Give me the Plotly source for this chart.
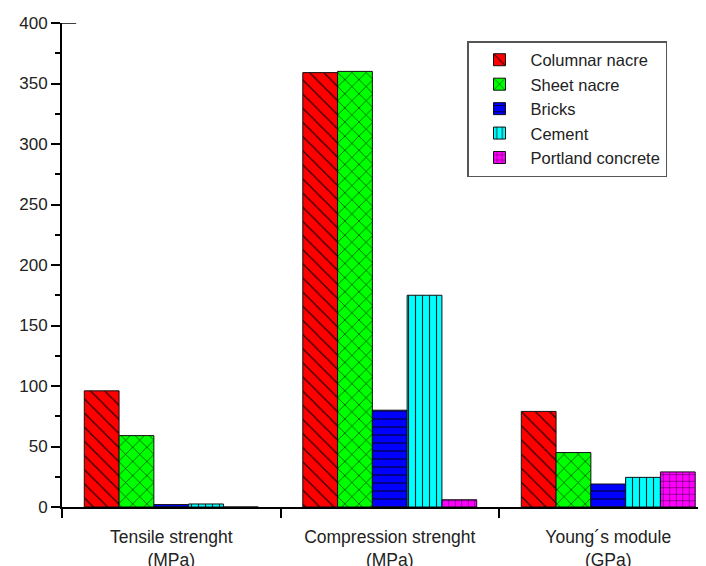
import plotly.graph_objects as go

categories = ["Tensile strenght<br>(MPa)", "Compression strenght<br>(MPa)", "Young´s module<br>(GPa)"]
cat_pos = [0, 1, 2]
columnar_nacre = [96, 359, 79]
sheet_nacre = [59, 360, 45]
bricks = [2, 80, 19]
cement = [2.5, 175, 24.5]
portland_concrete = [0, 6, 29]
y_ticks = [0, 50, 100, 150, 200, 250, 300, 350, 400]

series = [
    ("Columnar nacre", columnar_nacre, "#ff0000", "\\", 10, 0.12),
    ("Sheet nacre", sheet_nacre, "#00ff00", "x", 10, 0.12),
    ("Bricks", bricks, "#0000ff", "-", 8, 0.14),
    ("Cement", cement, "#00ffff", "|", 7, 0.16),
    ("Portland concrete", portland_concrete, "#ff00ff", "+", 6.5, 0.14),
]

FONT = "Liberation Sans, Arial, sans-serif"

fig = go.Figure()
for name, vals, col, shp, sz, sol in series:
    fig.add_trace(go.Bar(
        name=name, x=cat_pos, y=vals,
        marker=dict(
            color=col,
            line=dict(color="#111111", width=1),
            pattern=dict(shape=shp, fgcolor="#000000", bgcolor=col, size=sz,
                         solidity=sol, fillmode="overlay", fgopacity=0.85),
        ),
    ))

# page body adds an 8px offset; margins compensate so the plot area spans x 62..706, y 23..507
fig.update_layout(
    width=698, height=558,
    margin=dict(l=54, r=0, t=15, b=59, autoexpand=False),
    paper_bgcolor="white", plot_bgcolor="white",
    barmode="group", bargap=0.204, bargroupgap=0,
    font=dict(family=FONT, size=17, color="#222222"),
    showlegend=True,
    legend=dict(
        x=(467 - 62) / 644, y=1 - 18 / 484, xanchor="left", yanchor="top",
        bordercolor="#555555", borderwidth=1.5, bgcolor="white",
        font=dict(family=FONT, size=16.5, color="#222222"),
        itemwidth=52, tracegroupgap=0,
    ),
    xaxis=dict(
        automargin=False,
        range=[-0.5, -0.5 + 644 / 218.5],
        tickmode="array", tickvals=cat_pos, ticktext=categories,
        ticks="", showline=True, linecolor="#000000", linewidth=2,
        showgrid=False, zeroline=False,
        tickfont=dict(family=FONT, size=17.5, color="#222222"),
        ticklabelstandoff=13,
        minor=dict(tickmode="linear", tick0=-0.5, dtick=1, ticks="outside",
                   ticklen=9, tickwidth=2, tickcolor="#000000", showgrid=False),
    ),
    yaxis=dict(
        automargin=False,
        range=[0, 400], tickmode="array", tickvals=y_ticks,
        ticks="outside", ticklen=9, tickwidth=1.5, tickcolor="#000000",
        showline=True, linecolor="#000000", linewidth=2,
        showgrid=False, zeroline=False,
        tickfont=dict(family=FONT, size=17, color="#222222"),
        minor=dict(tickmode="linear", tick0=25, dtick=50, ticks="outside",
                   ticklen=5, tickwidth=1.5, tickcolor="#000000", showgrid=False),
    ),
)

fig.add_shape(type="line", xref="x domain", yref="y", x0=0, x1=0.022, y0=400, y1=400,
              line=dict(color="#000000", width=1.5))

fig.write_html("out.html")
